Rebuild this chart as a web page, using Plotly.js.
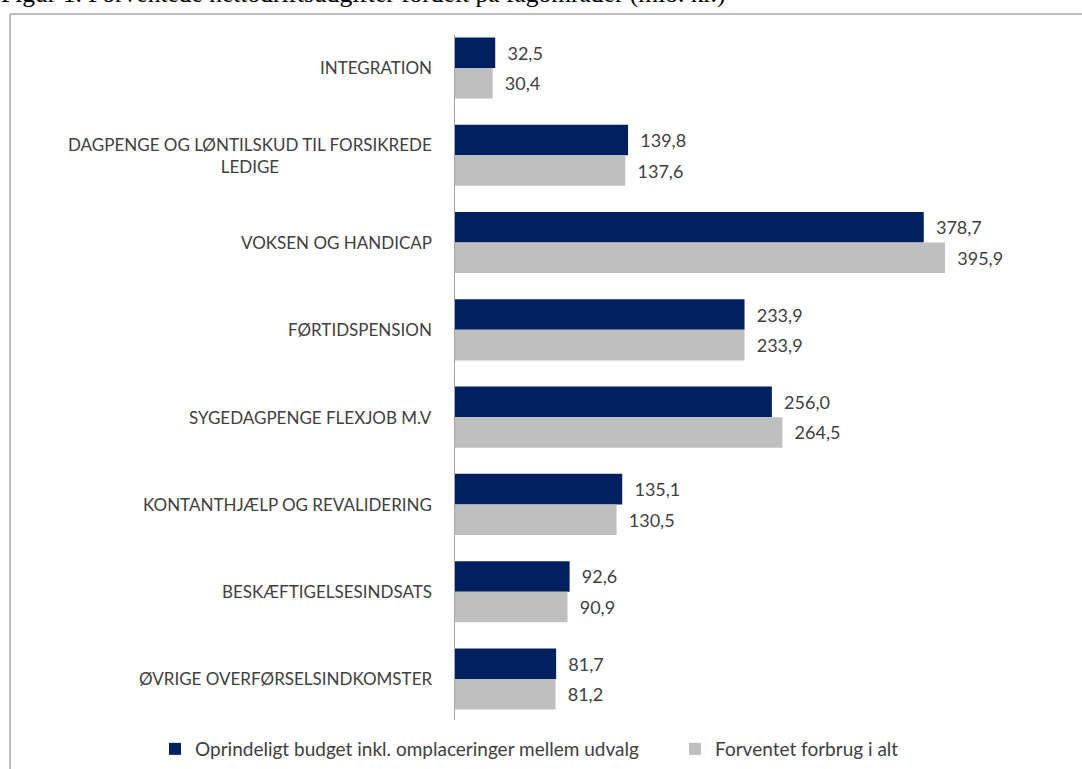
<!DOCTYPE html>
<html>
<head>
<meta charset="utf-8">
<script src="https://cdn.plot.ly/plotly-3.0.1.min.js"></script>
<style>html,body{margin:0;padding:0;background:#fff;overflow:hidden}#chart{width:1082px;height:769px}</style>
</head>
<body>
<div id="chart"></div>
<script>
const categories = [
  "INTEGRATION",
  "DAGPENGE OG LØNTILSKUD TIL FORSIKREDE<br>LEDIGE",
  "VOKSEN OG HANDICAP",
  "FØRTIDSPENSION",
  "SYGEDAGPENGE FLEXJOB M.V",
  "KONTANTHJÆLP OG REVALIDERING",
  "BESKÆFTIGELSESINDSATS",
  "ØVRIGE OVERFØRSELSINDKOMSTER"
];
const seriesNames = ["Oprindeligt budget inkl. omplaceringer mellem udvalg", "Forventet forbrug i alt"];
const budget = [32.5, 139.8, 378.7, 233.9, 256.0, 135.1, 92.6, 81.7];
const forbrug = [30.4, 137.6, 395.9, 233.9, 264.5, 130.5, 90.9, 81.2];
const titleText = "Figur 1. Forventede nettodriftsudgifter fordelt på fagområder (mio. kr.)";

const fmt = v => "\u00a0\u00a0" + v.toFixed(1).replace('.', ',');
const fam = "Lato, 'Open Sans', sans-serif";
const catFont = {family: fam, size: 17, color: "#404040"};
const valFont = {family: fam, size: 18, color: "#404040"};

const traces = [
  {type: 'bar', orientation: 'h', name: seriesNames[0], y: categories, x: budget, legend: 'legend',
   marker: {color: '#002060'}, text: budget.map(fmt), textposition: 'outside',
   textfont: valFont, cliponaxis: false, hoverinfo: 'x+y'},
  {type: 'bar', orientation: 'h', name: seriesNames[1], y: categories, x: forbrug, legend: 'legend2',
   marker: {color: '#bfbfbf'}, text: forbrug.map(fmt), textposition: 'outside',
   textfont: valFont, cliponaxis: false, hoverinfo: 'x+y'}
];

const L = 455, T = 35, W = 557, H = 685;
const px = x => (x - L) / W;
const py = y => (T + H - y) / H;

const annotations = categories.map(c => ({
  xref: 'paper', yref: 'y', x: 0, y: c, xanchor: 'right', yanchor: 'middle',
  xshift: -21, align: 'center', showarrow: false, text: c, font: catFont
}));
annotations.push({
  xref: 'paper', yref: 'paper', x: px(-1), y: py(-6), xanchor: 'left', yanchor: 'middle',
  showarrow: false, text: titleText,
  font: {family: "'Liberation Serif', 'Times New Roman', serif", size: 25.5, color: '#000'}
});

const legendBase = {orientation: 'h', xanchor: 'left', yanchor: 'middle', y: py(749),
  font: {family: fam, size: 19, color: '#404040'}, itemwidth: 30,
  bgcolor: 'rgba(0,0,0,0)'};

const layout = {
  width: 1082, height: 769,
  margin: {l: L, r: 1082 - L - W, t: T, b: 769 - T - H, pad: 0, autoexpand: false},
  paper_bgcolor: '#fff', plot_bgcolor: '#fff',
  barmode: 'group', bargap: 0.3, bargroupgap: 0,
  showlegend: true,
  legend: Object.assign({}, legendBase, {x: px(155)}),
  legend2: Object.assign({}, legendBase, {x: px(675)}),
  xaxis: {range: [0, 450], showgrid: false, zeroline: false, showticklabels: false,
          showline: false, ticks: ''},
  yaxis: {type: 'category', range: [7.47, -0.378], showgrid: false, zeroline: false,
          showticklabels: false, showline: true, linecolor: '#a6a6a6', linewidth: 1, ticks: ''},
  shapes: [
    {type: 'line', xref: 'paper', yref: 'paper', x0: px(10), x1: px(1090), y0: py(14), y1: py(14),
     line: {color: '#a8a8a8', width: 1.5}},
    {type: 'line', xref: 'paper', yref: 'paper', x0: px(10), x1: px(10), y0: py(14), y1: py(780),
     line: {color: '#a8a8a8', width: 1.5}}
  ],
  annotations: annotations
};

Plotly.newPlot('chart', traces, layout, {displayModeBar: false, staticPlot: true});
</script>
</body>
</html>
